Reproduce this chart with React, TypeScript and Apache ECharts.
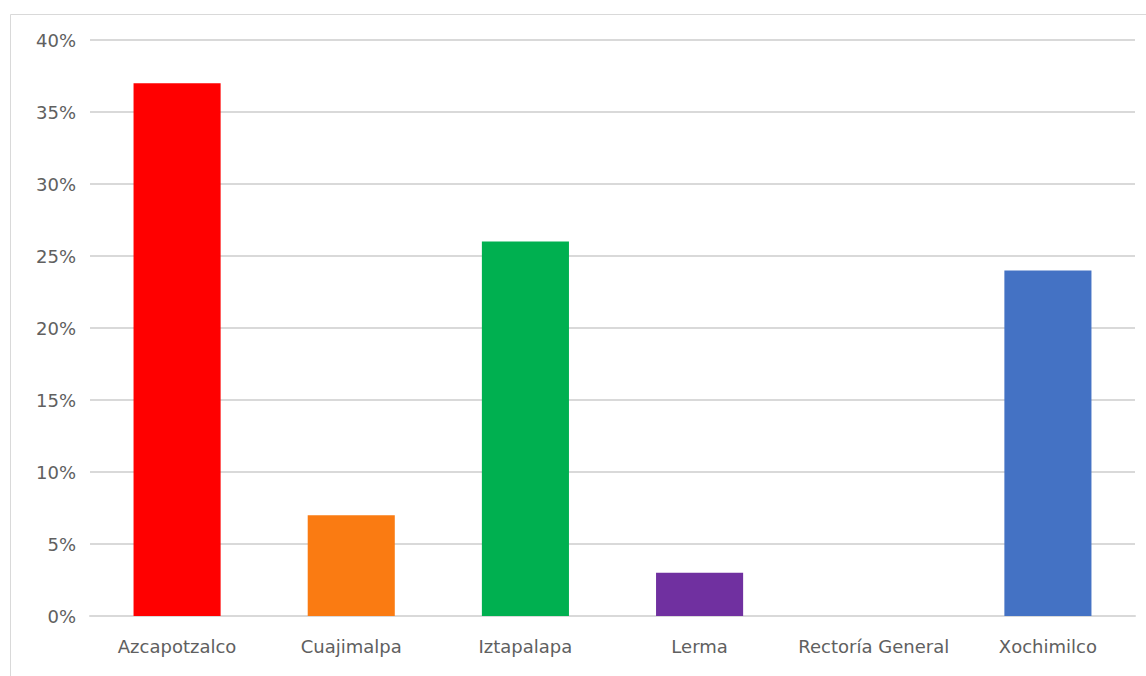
import React, { useEffect, useRef } from "react";
import * as echarts from "echarts";

const categories = ["Azcapotzalco", "Cuajimalpa", "Iztapalapa", "Lerma", "Rectoría General", "Xochimilco"];
const values = [37, 7, 26, 3, 0, 24];
const colors = ["#FF0000", "#FA7B12", "#00B050", "#7030A0", "#A5A5A5", "#4472C4"];

export default function App() {
  const ref = useRef<HTMLDivElement>(null);
  useEffect(() => {
    const chart = echarts.init(ref.current!, null, { renderer: "svg" });
    chart.setOption({
      animation: false,
      backgroundColor: "#ffffff",
      textStyle: { fontFamily: "DejaVu Sans" },
      graphic: [
        {
          type: "rect",
          shape: { x: 10.5, y: 14.5, width: 1150, height: 700 },
          style: { fill: "none", stroke: "#D9D9D9", lineWidth: 1 },
          silent: true,
        },
      ],
      grid: { left: 90, right: 11, top: 40, bottom: 60, containLabel: false },
      xAxis: {
        type: "category",
        data: categories,
        axisLine: { show: true, lineStyle: { color: "#D9D9D9", width: 2 } },
        axisTick: { show: false },
        axisLabel: { color: "#606060", fontSize: 18, margin: 21, interval: 0, hideOverlap: false, fontFamily: "DejaVu Sans" },
      },
      yAxis: {
        type: "value",
        min: 0,
        max: 40,
        interval: 5,
        axisLine: { show: false },
        axisTick: { show: false },
        splitLine: { lineStyle: { color: "#D9D9D9", width: 2 } },
        axisLabel: { color: "#606060", fontSize: 18, margin: 14, formatter: "{value}%", fontFamily: "DejaVu Sans" },
      },
      series: [
        {
          type: "bar",
          barWidth: "50%",
          data: values.map((v, i) => ({ value: v, itemStyle: { color: colors[i] } })),
        },
      ],
    });
    return () => chart.dispose();
  }, []);
  return <div ref={ref} style={{ position: "fixed", left: 0, top: 0, width: 1146, height: 676 }} />;
}
